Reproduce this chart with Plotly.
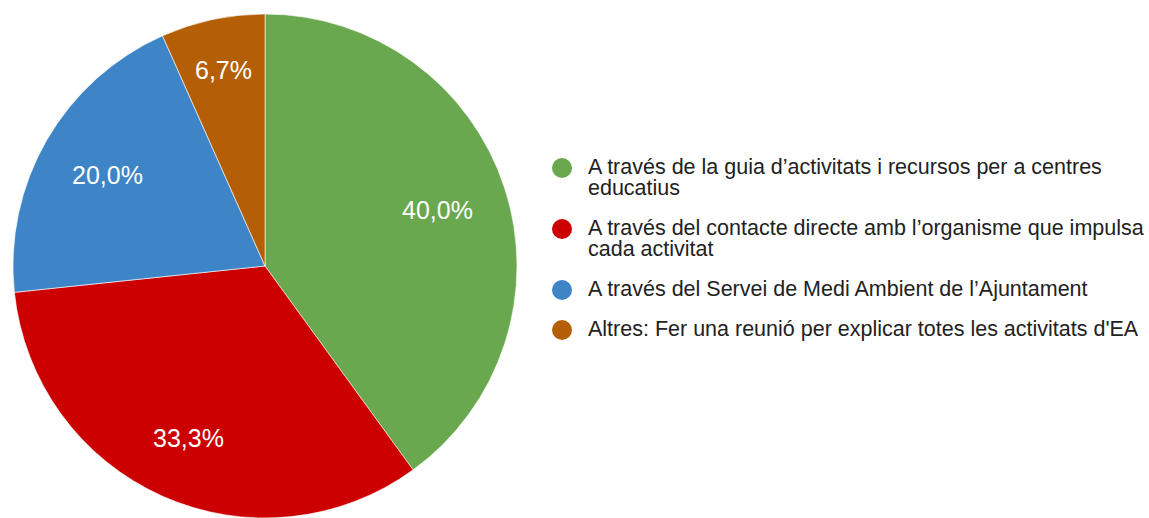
import math
import plotly.graph_objects as go

# Survey answers: how the school learns about the environmental-education activities
labels = [
    "A través de la guia d’activitats i recursos per a centres educatius",
    "A través del contacte directe amb l’organisme que impulsa cada activitat",
    "A través del Servei de Medi Ambient de l’Ajuntament",
    "Altres: Fer una reunió per explicar totes les activitats d'EA",
]
# Wrapped legend text (one entry per line)
legend_lines = [
    ["A través de la guia d’activitats i recursos per a centres", "educatius"],
    ["A través del contacte directe amb l’organisme que impulsa", "cada activitat"],
    ["A través del Servei de Medi Ambient de l’Ajuntament"],
    ["Altres: Fer una reunió per explicar totes les activitats d'EA"],
]
counts = [6, 5, 3, 1]
colors = ["#6aa84f", "#cc0000", "#3d85c6", "#b45f06"]
# How far out along each slice's bisector its percentage sits (fraction of radius)
label_radius = [0.72, 0.745, 0.72, 0.795]

W, H = 1149, 518
FONT = "Arial, Liberation Sans, sans-serif"

# Pie placement in pixels
pie_x = [0, 530]
pie_top = 14
cx = (pie_x[0] + pie_x[1]) / 2
R = (H - pie_top) / 2
cy = pie_top + R

fig = go.Figure()
fig.add_trace(go.Pie(
    labels=labels,
    values=counts,
    sort=False,
    direction="clockwise",
    rotation=0,
    marker=dict(colors=colors, line=dict(color="white", width=0.6)),
    textinfo="none",
    domain=dict(x=[pie_x[0] / W, pie_x[1] / W], y=[0, (H - pie_top) / H]),
    showlegend=False,
    hoverinfo="label+percent",
))

annotations = []

# Percentage labels along each slice's bisector
total = sum(counts)
start = 0.0
for n, frac in zip(counts, label_radius):
    share = n / total
    mid = (start + share / 2) * 2 * math.pi
    start += share
    px = cx + R * frac * math.sin(mid)
    py = cy - R * frac * math.cos(mid)
    annotations.append(dict(
        x=px / W, y=1 - py / H, xref="paper", yref="paper",
        xanchor="center", yanchor="middle", showarrow=False,
        text=f"{share * 100:.1f}".replace(".", ",") + "%",
        font=dict(family=FONT, size=25, color="white"),
    ))

# Custom legend: round swatch plus left-aligned, wrapped text
shapes = []
y = 167
line_h = 21
item_gap = 40
for lines, col in zip(legend_lines, colors):
    shapes.append(dict(
        type="circle", xref="paper", yref="paper",
        xsizemode="pixel", ysizemode="pixel",
        xanchor=562 / W, yanchor=1 - (y + 1) / H,
        x0=-10, x1=10, y0=-10, y1=10,
        fillcolor=col, line=dict(width=0),
    ))
    for i, txt in enumerate(lines):
        annotations.append(dict(
            x=586 / W, y=1 - (y + i * line_h) / H,
            xref="paper", yref="paper",
            xanchor="left", yanchor="middle",
            text=txt, showarrow=False,
            font=dict(family=FONT, size=21.5, color="#222222"),
        ))
    y += (len(lines) - 1) * line_h + item_gap

fig.update_layout(
    width=W, height=H,
    margin=dict(l=0, r=0, t=0, b=0),
    paper_bgcolor="white",
    plot_bgcolor="white",
    shapes=shapes,
    annotations=annotations,
)

fig.write_html("out.html")
